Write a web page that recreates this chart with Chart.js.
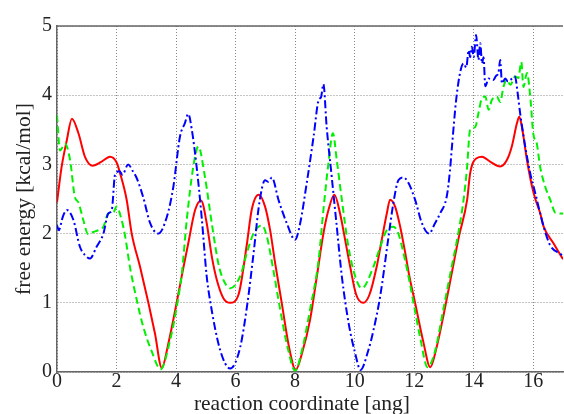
<!DOCTYPE html>
<html>
<head>
<meta charset="utf-8">
<script src="https://cdn.jsdelivr.net/npm/chart.js@4.4.1/dist/chart.umd.min.js"></script>
<style>
    html, body { margin: 0; padding: 0; background: #fff; }
</style>
</head>
<body>
<canvas id="freeChart" width="564" height="414"></canvas>
<script>
// ─── Data ─────────────────────────────────────────────────────────────────
const xTicks = [0, 2, 4, 6, 8, 10, 12, 14, 16];
const yTicks = [0, 1, 2, 3, 4, 5];

// red, solid
const redX = [0, 0.15, 0.33, 0.5, 0.72, 0.94, 1.2, 1.5, 1.78, 2.0, 2.12, 2.34, 2.51, 2.79, 3.07, 3.29, 3.52, 3.74, 4.02, 4.22,
    4.41, 4.64, 4.84, 5.03, 5.2, 5.37, 5.6, 5.82, 6.1, 6.38, 6.54, 6.77, 6.99, 7.16, 7.33, 7.55, 7.8, 8.02, 8.25, 8.5,
    8.73, 8.95, 9.12, 9.32, 9.51, 9.68, 9.85, 10.05, 10.29, 10.5, 10.74, 10.91, 11.08, 11.19, 11.36, 11.53, 11.7, 11.84, 12.03, 12.3,
    12.54, 12.75, 13.0, 13.25, 13.5, 13.78, 13.88, 14.1, 14.28, 14.55, 14.89, 15.11, 15.28, 15.45, 15.53, 15.62, 15.79, 15.96, 16.07, 16.23,
    16.35, 16.68, 17];
const redY = [2.45, 2.95, 3.35, 3.66, 3.45, 3.11, 2.98, 3.04, 3.11, 3.03, 2.87, 2.49, 2.0, 1.52, 1.0, 0.56, 0.06, 0.41, 1.0, 1.45,
    1.86, 2.34, 2.48, 2.15, 1.67, 1.33, 1.06, 1.0, 1.12, 1.85, 2.34, 2.56, 2.39, 2.05, 1.57, 1.0, 0.35, 0.03, 0.3, 0.75,
    1.38, 2.0, 2.34, 2.56, 2.29, 1.91, 1.52, 1.12, 1.0, 1.12, 1.52, 1.91, 2.29, 2.49, 2.39, 2.1, 1.72, 1.38, 1.0, 0.45,
    0.07, 0.35, 0.85, 1.4, 1.95, 2.49, 2.87, 3.09, 3.11, 3.04, 2.97, 3.06, 3.26, 3.59, 3.69, 3.54, 3.06, 2.68, 2.5, 2.3,
    2.1, 1.86, 1.63];

// green, dashed
const greenX = [0, 0.1, 0.27, 0.44, 0.6, 0.72, 0.88, 1.05, 1.2, 1.39, 1.56, 1.72, 1.9, 2.0, 2.17, 2.29, 2.45, 2.68, 2.9, 3.18,
    3.48, 3.8, 4.03, 4.2, 4.36, 4.58, 4.75, 4.97, 5.2, 5.42, 5.59, 5.82, 6.15, 6.4, 6.6, 6.88, 7.05, 7.27, 7.5, 7.75,
    8.0, 8.25, 8.5, 8.79, 8.95, 9.12, 9.27, 9.4, 9.57, 9.79, 10.02, 10.24, 10.63, 10.86, 11.08, 11.3, 11.47, 11.64, 11.81, 12.0,
    12.2, 12.45, 12.7, 13.0, 13.25, 13.5, 13.66, 13.77, 13.88, 14.05, 14.16, 14.28, 14.39, 14.5, 14.61, 14.78, 14.89, 15.0, 15.11, 15.23,
    15.39, 15.5, 15.6, 15.67, 15.79, 15.9, 16.0, 16.12, 16.23, 16.4, 16.57, 16.75, 17];
const greenY = [3.71, 3.2, 3.3, 3.06, 2.53, 2.45, 2.2, 1.99, 2.02, 2.05, 2.1, 2.29, 2.31, 2.39, 2.2, 1.96, 1.52, 1.04, 0.65, 0.3,
    0.04, 0.46, 0.96, 1.45, 2.2, 2.97, 3.26, 2.82, 2.15, 1.57, 1.33, 1.21, 1.38, 1.75, 2.0, 2.12, 1.96, 1.47, 0.9, 0.35,
    0.02, 0.35, 0.9, 1.62, 2.34, 3.02, 3.45, 3.06, 2.49, 1.81, 1.38, 1.21, 1.52, 1.81, 2.05, 2.1, 2.0, 1.72, 1.38, 0.95,
    0.5, 0.07, 0.3, 0.95, 1.5, 2.05, 2.49, 2.92, 3.5, 3.54, 3.74, 3.96, 3.98, 3.79, 3.93, 3.98, 3.9, 4.12, 4.22, 4.15,
    4.27, 4.25, 4.48, 4.12, 4.32, 3.98, 3.45, 3.3, 2.97, 2.68, 2.49, 2.3, 2.29];

// blue, dash-dot
const blueX = [0, 0.06, 0.2, 0.33, 0.55, 0.77, 0.94, 1.11, 1.33, 1.56, 1.72, 1.84, 1.95, 2.1, 2.2, 2.39, 2.55, 2.68, 2.9, 3.13,
    3.4, 3.69, 3.91, 4.13, 4.3, 4.41, 4.53, 4.69, 4.86, 5.03, 5.14, 5.48, 5.82, 6.15, 6.4, 6.6, 6.8, 6.99, 7.1, 7.22,
    7.44, 7.72, 8.0, 8.17, 8.39, 8.62, 8.79, 8.87, 8.95, 9.06, 9.23, 9.4, 9.57, 9.8, 10.0, 10.2, 10.45, 10.63, 10.86, 11.14,
    11.3, 11.47, 11.64, 11.81, 12.03, 12.26, 12.5, 12.7, 12.87, 13.1, 13.2, 13.27, 13.41, 13.55, 13.66, 13.75, 13.83, 13.88, 13.94, 14.0,
    14.08, 14.16, 14.22, 14.28, 14.33, 14.39, 14.5, 14.66, 14.75, 14.83, 14.89, 14.95, 15.06, 15.15, 15.23, 15.39, 15.45, 15.56, 15.73, 15.9,
    16.07, 16.2, 16.35, 16.57, 16.9, 17];
const blueY = [2.12, 2.05, 2.25, 2.34, 2.2, 1.81, 1.69, 1.64, 1.81, 2.0, 2.29, 2.34, 2.85, 2.9, 2.85, 3.0, 2.9, 2.8, 2.52, 2.15,
    2.0, 2.24, 2.68, 3.4, 3.6, 3.73, 3.5, 2.97, 2.24, 1.38, 1.04, 0.32, 0.05, 0.35, 1.0, 1.7, 2.45, 2.77, 2.75, 2.81,
    2.49, 2.15, 1.91, 2.15, 2.73, 3.4, 3.93, 3.97, 4.16, 3.54, 2.82, 2.1, 1.38, 0.7, 0.3, 0.03, 0.3, 0.6, 1.1, 1.96,
    2.44, 2.77, 2.81, 2.73, 2.49, 2.15, 2.0, 2.15, 2.29, 2.55, 2.9, 3.26, 3.93, 4.34, 4.46, 4.4, 4.65, 4.55, 4.7, 4.55,
    4.87, 4.51, 4.75, 4.46, 4.55, 4.13, 4.24, 4.22, 4.28, 4.32, 4.51, 4.17, 4.24, 4.2, 4.22, 4.27, 4.12, 3.74, 3.26, 2.87,
    2.58, 2.35, 2.1, 1.83, 1.71, 1.68];

function toPoints(xs, ys) {
    return xs.map(function (x, i) { return { x: x, y: ys[i] }; });
}

// ─── Top frame line (the axes box) ────────────────────────────────────────
const topFrame = {
    id: 'topFrame',
    afterDraw: function (chart) {
        const a = chart.chartArea;
        const ctx = chart.ctx;
        ctx.save();
        ctx.strokeStyle = '#666';
        ctx.lineWidth = 1.5;
        ctx.beginPath();
        ctx.moveTo(a.left, a.top);
        ctx.lineTo(a.right, a.top);
        ctx.stroke();
        ctx.restore();
    }
};

const serif = 'Liberation Serif';

new Chart(document.getElementById('freeChart'), {
    type: 'line',
    data: {
        datasets: [
            {
                label: 'blue',
                data: toPoints(blueX, blueY),
                borderColor: '#0000ff',
                borderWidth: 2,
                borderDash: [8, 3, 2, 3],
                pointRadius: 0,
                cubicInterpolationMode: 'monotone',
            },
            {
                label: 'green',
                data: toPoints(greenX, greenY),
                borderColor: '#00f000',
                borderWidth: 2,
                borderDash: [7, 4],
                pointRadius: 0,
                cubicInterpolationMode: 'monotone',
            },
            {
                label: 'red',
                data: toPoints(redX, redY),
                borderColor: '#ff0000',
                borderWidth: 2,
                pointRadius: 0,
                cubicInterpolationMode: 'monotone',
            }
        ]
    },
    options: {
        responsive: false,
        animation: false,
        layout: { padding: { top: 26, right: 1, left: 0, bottom: 0 } },
        plugins: {
            legend: { display: false },
            tooltip: { enabled: false }
        },
        scales: {
            x: {
                type: 'linear',
                min: 0,
                max: 17,
                afterBuildTicks: function (s) { s.ticks = xTicks.map(function (v) { return { value: v }; }); },
                afterFit: function (s) { s.height = 42; },
                ticks: { color: '#222', padding: -2, maxRotation: 0, font: { family: serif, size: 20 } },
                grid: { color: '#888', drawTicks: false },
                border: { display: true, color: '#666', width: 1.5, dash: [1, 2] },
                title: {
                    display: true,
                    text: 'reaction coordinate [ang]   ',
                    color: '#222',
                    font: { family: serif, size: 21.5 },
                    padding: { top: 0, bottom: -3 }
                }
            },
            y: {
                min: 0,
                max: 5,
                afterBuildTicks: function (s) { s.ticks = yTicks.map(function (v) { return { value: v }; }); },
                afterFit: function (s) { s.width = 57; },
                ticks: { color: '#222', padding: 5, font: { family: serif, size: 20 } },
                grid: { color: '#888', drawTicks: false },
                border: { display: true, color: '#666', width: 1.5, dash: [1, 2] },
                title: {
                    display: true,
                    text: 'free energy [kcal/mol]',
                    color: '#222',
                    font: { family: serif, size: 21.5 },
                    padding: { top: 11, bottom: 0 }
                }
            }
        }
    },
    plugins: [topFrame]
});
</script>
</body>
</html>
